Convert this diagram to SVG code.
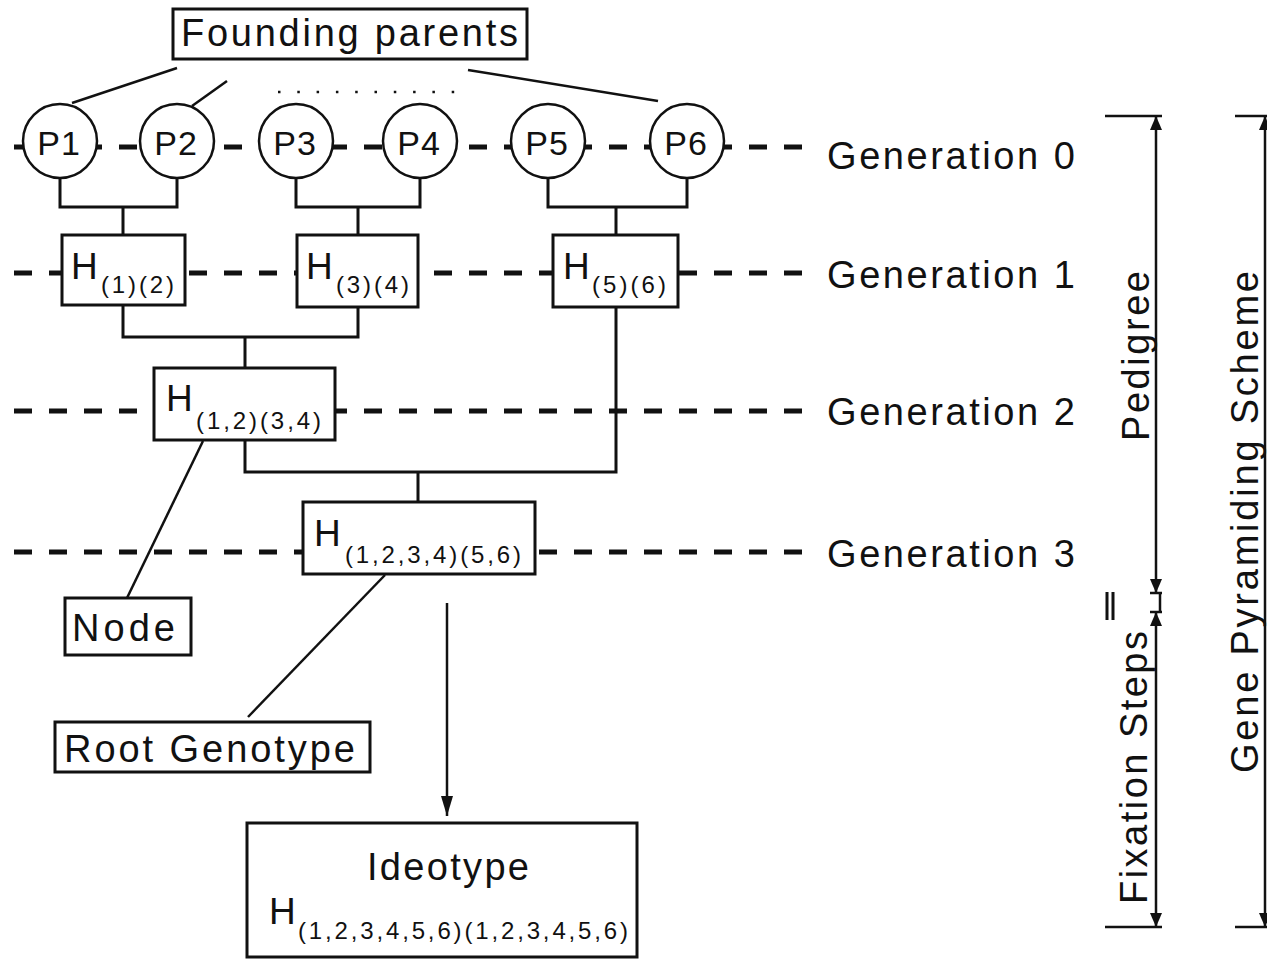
<svg xmlns="http://www.w3.org/2000/svg" width="1267" height="960" viewBox="0 0 1267 960">
<style>
text{font-family:"Liberation Sans",Arial,Helvetica,sans-serif;fill:#111}
.lbl{font-size:38px}
.p{font-size:34px;text-anchor:middle;letter-spacing:1px}
.h{font-size:37px}
.sub{font-size:24px}
.box{fill:#fff;stroke:#111;stroke-width:3}
.node{fill:#fff;stroke:#111;stroke-width:2.5}
.gen{stroke:#111;stroke-width:5;stroke-dasharray:18 17;fill:none}
.con{stroke:#111;stroke-width:3;fill:none}
.thin{stroke:#111;stroke-width:2.5;fill:none}
.dots{stroke:#111;stroke-width:2.5;stroke-dasharray:2.5 16.8;fill:none}
</style>
<defs>
<marker id="tip" viewBox="0 0 14 12" refX="14" refY="6" markerWidth="14" markerHeight="12" markerUnits="userSpaceOnUse" orient="auto-start-reverse">
<path d="M0,0 L14,6 L0,12 z" fill="#111"/>
</marker>
<marker id="tipLong" viewBox="0 0 20 12" refX="20" refY="6" markerWidth="20" markerHeight="12" markerUnits="userSpaceOnUse" orient="auto">
<path d="M0,0 L20,6 L0,12 z" fill="#111"/>
</marker>
</defs>
<rect width="1267" height="960" fill="#fff"/>

<!-- generation levels -->
<g id="generation-lines">
<line class="gen" x1="14" y1="147" x2="802" y2="147"/>
<line class="gen" x1="14" y1="273" x2="802" y2="273"/>
<line class="gen" x1="14" y1="411" x2="802" y2="411"/>
<line class="gen" x1="14" y1="552" x2="802" y2="552"/>
<text class="lbl" x="827" y="169" textLength="248" lengthAdjust="spacing">Generation 0</text>
<text class="lbl" x="827" y="288" textLength="248" lengthAdjust="spacing">Generation 1</text>
<text class="lbl" x="827" y="425" textLength="248" lengthAdjust="spacing">Generation 2</text>
<text class="lbl" x="827" y="567" textLength="248" lengthAdjust="spacing">Generation 3</text>
</g>

<!-- crossing connectors and pointer lines -->
<g id="connectors">
<path class="con" d="M60,178 V207 H177 V178 M123,207 V235"/>
<path class="con" d="M296,178 V207 H420 V178 M358,207 V235"/>
<path class="con" d="M548,178 V207 H687 V178 M616,207 V235"/>
<path class="con" d="M123,305 V337 H358 V307 M245,337 V368"/>
<path class="con" d="M616,307 V472 H245 V440 M418,472 V502"/>
<line class="thin" x1="177" y1="68" x2="72" y2="103"/>
<line class="thin" x1="227" y1="81" x2="192" y2="106"/>
<line class="thin" x1="468" y1="70" x2="658" y2="101"/>
<line class="dots" x1="278" y1="92" x2="456" y2="92"/>
<line class="thin" x1="203" y1="441" x2="127" y2="598"/>
<line class="thin" x1="385" y1="575" x2="248" y2="717"/>
<line class="thin" x1="447" y1="603" x2="447" y2="816" marker-end="url(#tipLong)"/>
</g>

<g id="founding-parents">
<rect class="box" x="173" y="9" width="354" height="50"/>
<text class="lbl" x="181" y="46" textLength="337" lengthAdjust="spacing">Founding parents</text>
</g>

<g id="P1"><circle class="node" cx="60" cy="141" r="37"/><text class="p" x="59" y="155">P1</text></g>
<g id="P2"><circle class="node" cx="177" cy="141" r="37"/><text class="p" x="176" y="155">P2</text></g>
<g id="P3"><circle class="node" cx="296" cy="141" r="37"/><text class="p" x="295" y="155">P3</text></g>
<g id="P4"><circle class="node" cx="420" cy="141" r="37"/><text class="p" x="419" y="155">P4</text></g>
<g id="P5"><circle class="node" cx="548" cy="141" r="37"/><text class="p" x="547" y="155">P5</text></g>
<g id="P6"><circle class="node" cx="687" cy="141" r="37"/><text class="p" x="686" y="155">P6</text></g>

<g id="H12">
<rect class="box" x="62" y="235" width="123" height="70"/>
<text class="h" x="71" y="279">H</text>
<text class="sub" x="101" y="293" textLength="73" lengthAdjust="spacing">(1)(2)</text>
</g>
<g id="H34">
<rect class="box" x="297" y="235" width="121" height="72"/>
<text class="h" x="306" y="279">H</text>
<text class="sub" x="336" y="293" textLength="73" lengthAdjust="spacing">(3)(4)</text>
</g>
<g id="H56">
<rect class="box" x="553" y="235" width="125" height="72"/>
<text class="h" x="563" y="279">H</text>
<text class="sub" x="592" y="293" textLength="74" lengthAdjust="spacing">(5)(6)</text>
</g>
<g id="H1234">
<rect class="box" x="154" y="368" width="181" height="72"/>
<text class="h" x="166" y="411">H</text>
<text class="sub" x="196" y="429" textLength="125" lengthAdjust="spacing">(1,2)(3,4)</text>
</g>
<g id="H123456">
<rect class="box" x="303" y="502" width="232" height="72"/>
<text class="h" x="314" y="546">H</text>
<text class="sub" x="345" y="563" textLength="176" lengthAdjust="spacing">(1,2,3,4)(5,6)</text>
</g>

<g id="node-label">
<rect class="box" x="65" y="598" width="126" height="57"/>
<text class="lbl" x="72" y="641" textLength="103" lengthAdjust="spacing">Node</text>
</g>
<g id="root-genotype">
<rect class="box" x="55" y="722" width="315" height="50"/>
<text class="lbl" x="64" y="762" textLength="291" lengthAdjust="spacing">Root Genotype</text>
</g>
<g id="ideotype">
<rect class="box" x="247" y="823" width="390" height="134"/>
<text class="lbl" x="367" y="880" textLength="162" lengthAdjust="spacing">Ideotype</text>
<text class="h" x="269" y="924">H</text>
<text class="sub" x="298" y="939" textLength="330" lengthAdjust="spacing">(1,2,3,4,5,6)(1,2,3,4,5,6)</text>
</g>

<!-- span brackets on the right -->
<g id="pedigree-span">
<line class="thin" x1="1105" y1="116" x2="1162" y2="116"/>
<line class="thin" x1="1156" y1="116" x2="1156" y2="593" marker-start="url(#tip)" marker-end="url(#tip)"/>
<path class="thin" d="M1150,593 H1162 M1160,593 V612 M1150,612 H1162"/>
<path class="con" d="M1107,592 V620 M1113,592 V620"/>
<text class="lbl" transform="translate(1149,441) rotate(-90)" textLength="170" lengthAdjust="spacing">Pedigree</text>
</g>
<g id="fixation-span">
<line class="thin" x1="1156" y1="612" x2="1156" y2="927" marker-start="url(#tip)" marker-end="url(#tip)"/>
<line class="thin" x1="1105" y1="927" x2="1162" y2="927"/>
<text class="lbl" transform="translate(1147,904) rotate(-90)" textLength="273" lengthAdjust="spacing">Fixation Steps</text>
</g>
<g id="scheme-span">
<line class="thin" x1="1235" y1="116" x2="1267" y2="116"/>
<line class="thin" x1="1265" y1="116" x2="1265" y2="927" marker-start="url(#tip)" marker-end="url(#tip)"/>
<line class="thin" x1="1235" y1="927" x2="1267" y2="927"/>
<text class="lbl" transform="translate(1258,773) rotate(-90)" textLength="502" lengthAdjust="spacing">Gene Pyramiding Scheme</text>
</g>
</svg>
